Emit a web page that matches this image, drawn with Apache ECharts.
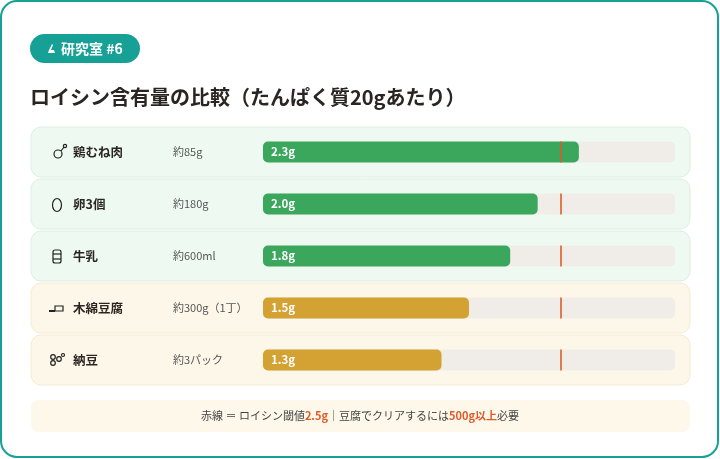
<!DOCTYPE html>
<html lang="ja">
<head>
  <meta charset="utf-8">
  <title>ロイシン含有量の比較</title>
  <style>
    html, body { margin: 0; padding: 0; background: #fff; }
    #chart { width: 720px; height: 459px; }
  </style>
</head>
<body>
<script src="https://cdn.jsdelivr.net/npm/echarts@6/dist/echarts.min.js"></script>
<div id="chart"></div>
<script>
  // data
  var categories = ['鶏むね肉', '卵3個', '牛乳', '木綿豆腐', '納豆'];
  var amounts = ['約85g', '約180g', '約600ml', '約300g（1丁）', '約3パック'];
  var leucine = [2.3, 2.0, 1.8, 1.5, 1.3];
  var groups = ['animal', 'animal', 'animal', 'plant', 'plant'];
  var icons = ['chicken', 'egg', 'milk', 'tofu', 'natto'];
  var threshold = 2.5;     // value quoted in the note
  var markerPos = 2.17;    // where the red line sits on the drawn scale
  var axisMax = 3;

  var FONT = '"Noto Sans CJK JP", "Noto Sans", sans-serif';
  var TEAL = '#17a096';
  var RED = '#e05a2b';
  var barColor = { animal: '#3aa75c', plant: '#d4a232' };
  var rowFill = { animal: '#eefaf1', plant: '#fdf7e9' };
  var rowStroke = { animal: '#dcefe1', plant: '#f5ebd2' };

  var chart = echarts.init(document.getElementById('chart'));

  var barData = leucine.map(function (v, i) {
    return { value: v, itemStyle: { color: barColor[groups[i]] } };
  });
  var markerData = categories.map(function (c) { return [markerPos, c]; });

  chart.setOption({
    animation: false,
    textStyle: { fontFamily: FONT },
    grid: { left: 263, right: 45, top: 126, bottom: 73 },
    xAxis: { type: 'value', min: 0, max: axisMax, show: false },
    yAxis: {
      type: 'category',
      inverse: true,
      data: categories,
      axisLine: { show: false },
      axisTick: { show: false },
      axisLabel: {
        align: 'left',
        margin: 190,
        formatter: function (v, i) {
          return '{n|' + v + '}{a|' + amounts[i] + '}';
        },
        rich: {
          n: { width: 100, fontSize: 12.5, fontWeight: 'bold', color: '#2b2522', fontFamily: FONT },
          a: { fontSize: 11, color: '#555', fontFamily: FONT }
        }
      }
    },
    series: [
      {
        type: 'bar',
        data: barData,
        barWidth: 21,
        z: 3,
        showBackground: true,
        backgroundStyle: { color: '#f0ede8', borderRadius: 5 },
        itemStyle: { borderRadius: 5 },
        label: {
          show: true,
          position: 'insideLeft',
          distance: 8,
          formatter: function (p) { return p.value.toFixed(1) + 'g'; },
          color: '#fff',
          fontWeight: 'bold',
          fontSize: 11.5,
          fontFamily: FONT
        }
      },
      {
        type: 'scatter',
        data: markerData,
        symbol: 'rect',
        symbolSize: [2, 21],
        itemStyle: { color: RED },
        z: 5,
        silent: true
      }
    ]
  });

  // decorations: card, badge, title, row cards, icons, note
  function icon(kind, cx, cy) {
    var s = { stroke: '#222', lineWidth: 1.2, fill: 'none' };
    var list = [];
    if (kind === 'chicken') {
      list.push({ type: 'circle', shape: { cx: cx + 1, cy: cy + 2, r: 4 }, style: s });
      list.push({ type: 'line', shape: { x1: cx + 4, y1: cy - 1, x2: cx + 7, y2: cy - 5 }, style: s });
      list.push({ type: 'circle', shape: { cx: cx + 8, cy: cy - 6, r: 1.6 }, style: s });
    } else if (kind === 'egg') {
      list.push({ type: 'ellipse', shape: { cx: cx, cy: cy + 1, rx: 4.5, ry: 6.5 }, style: s });
    } else if (kind === 'milk') {
      list.push({ type: 'rect', shape: { x: cx - 4, y: cy - 6, width: 8, height: 13, r: 2 }, style: s });
      list.push({ type: 'line', shape: { x1: cx - 4, y1: cy - 2, x2: cx + 4, y2: cy - 2 }, style: s });
      list.push({ type: 'line', shape: { x1: cx - 4, y1: cy + 3, x2: cx + 4, y2: cy + 3 }, style: s });
    } else if (kind === 'tofu') {
      list.push({ type: 'rect', shape: { x: cx - 2, y: cy - 2, width: 8, height: 5 }, style: s });
      list.push({ type: 'line', shape: { x1: cx - 8, y1: cy + 3, x2: cx - 2, y2: cy + 3 }, style: { stroke: '#222', lineWidth: 2 } });
    } else if (kind === 'natto') {
      list.push({ type: 'circle', shape: { cx: cx - 4, cy: cy - 3, r: 2.3 }, style: s });
      list.push({ type: 'circle', shape: { cx: cx - 4, cy: cy + 3, r: 2.3 }, style: s });
      list.push({ type: 'circle', shape: { cx: cx + 2, cy: cy - 1, r: 2.3 }, style: s });
      list.push({ type: 'circle', shape: { cx: cx + 6, cy: cy - 5, r: 1.5 }, style: s });
    }
    return list;
  }

  var els = [];
  els.push({ type: 'rect', z: -10, shape: { x: 1, y: 1, width: 717, height: 456, r: 16 },
    style: { fill: '#fff', stroke: TEAL, lineWidth: 2 } });
  els.push({ type: 'rect', z: -5, shape: { x: 30, y: 34, width: 110, height: 29, r: 14.5 },
    style: { fill: TEAL } });
  els.push({ type: 'polygon', z: -4, shape: { points: [[48, 53], [55, 53], [54, 50], [51, 50], [53, 45], [52, 44], [49, 50]] },
    style: { fill: '#fff' } });
  els.push({ type: 'text', z: -4, x: 61, y: 48.5,
    style: { text: '研究室 #6', fill: '#fff', font: 'bold 14px ' + FONT, verticalAlign: 'middle' } });
  els.push({ type: 'text', z: -4, x: 30, y: 97,
    style: { text: 'ロイシン含有量の比較（たんぱく質20gあたり）', fill: '#2b2522',
      font: 'bold 20px ' + FONT, verticalAlign: 'middle' } });

  categories.forEach(function (c, i) {
    var cy = chart.convertToPixel({ gridIndex: 0 }, [0, c])[1];
    var g = groups[i];
    els.push({ type: 'rect', z: -5, shape: { x: 31, y: cy - 25, width: 659, height: 50, r: 10 },
      style: { fill: rowFill[g], stroke: rowStroke[g], lineWidth: 1 } });
    icon(icons[i], 57, cy).forEach(function (e) { e.z = -4; els.push(e); });
  });

  els.push({ type: 'rect', z: -5, shape: { x: 31, y: 400, width: 659, height: 32, r: 8 },
    style: { fill: '#fdf8ea' } });
  els.push({ type: 'text', z: -4, x: 360, y: 416,
    style: {
      text: '{t|赤線 ＝ ロイシン閾値}{h|' + threshold.toFixed(1) + 'g}{t|｜豆腐でクリアするには}{h|500g以上}{t|必要}',
      align: 'center', verticalAlign: 'middle',
      rich: {
        t: { fontSize: 11, fill: '#444', fontFamily: FONT },
        h: { fontSize: 11, fill: RED, fontWeight: 'bold', fontFamily: FONT }
      }
    } });

  chart.setOption({ graphic: { elements: els } });

  window.addEventListener('resize', function () { chart.resize(); });
</script>
</body>
</html>
